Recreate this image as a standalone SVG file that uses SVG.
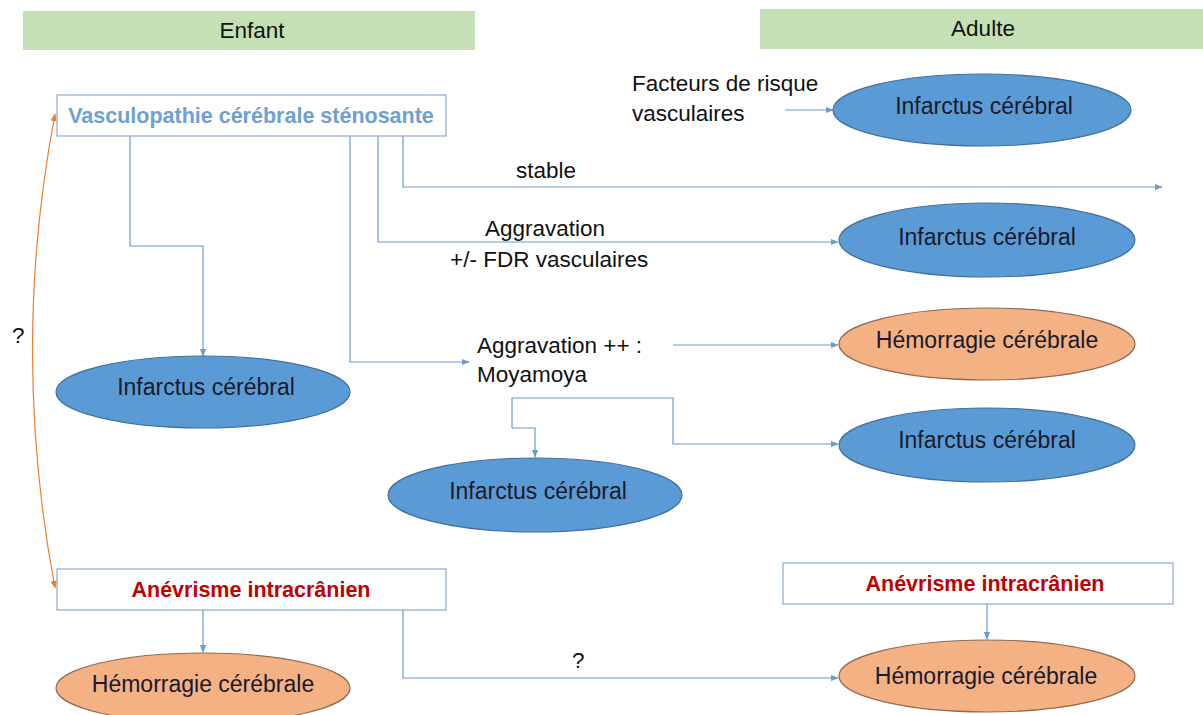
<svg xmlns="http://www.w3.org/2000/svg" width="1203" height="715" viewBox="0 0 1203 715">
<defs>
<style>
text{font-family:"Liberation Sans",Arial,sans-serif;fill:#111;font-size:22.5px}
.c{text-anchor:middle}
.e{font-size:23px;fill:#1a1a2a}
.bar{fill:#c5e0b4}
.blue{fill:#5b9bd5;stroke:#41719c;stroke-width:1.2}
.orange{fill:#f4b183;stroke:#8f6a50;stroke-width:1.2}
.box{fill:#fff;stroke:#8eaacb;stroke-width:1.2}
.conn{fill:none;stroke:#6a9ccf;stroke-width:1.2}
.ttl{font-weight:bold;font-size:21.5px}
</style>
<marker id="ah" viewBox="0 0 10 10" refX="9" refY="5" markerWidth="8" markerHeight="8" markerUnits="userSpaceOnUse" orient="auto"><path d="M0,1 L10,5 L0,9 z" fill="#6a9ccf"/></marker>
<marker id="ao" viewBox="0 0 10 10" refX="9" refY="5" markerWidth="8" markerHeight="8" markerUnits="userSpaceOnUse" orient="auto-start-reverse"><path d="M0,1 L10,5 L0,9 z" fill="#ed7d31"/></marker>
</defs>
<rect width="1203" height="715" fill="#fff"/>
<g id="hdr-enfant"><rect class="bar" x="23" y="11" width="452" height="39"/><text class="c" x="252" y="38">Enfant</text></g>
<g id="hdr-adulte"><rect class="bar" x="760" y="9" width="443" height="40"/><text class="c" x="983" y="36">Adulte</text></g>

<g id="connectors">
<path class="conn" d="M130,136 V246 H203 V356" marker-end="url(#ah)"/>
<path class="conn" d="M350,136 V362 H469" marker-end="url(#ah)"/>
<path class="conn" d="M378,136 V242 H838" marker-end="url(#ah)"/>
<path class="conn" d="M403,136 V187 H1162" marker-end="url(#ah)"/>
<path class="conn" d="M785,110 H833" marker-end="url(#ah)"/>
<path class="conn" d="M673,345 H838" marker-end="url(#ah)"/>
<path class="conn" d="M512,428 V398 H673 V444 H838" marker-end="url(#ah)"/>
<path class="conn" d="M512,428 H535 V457" marker-end="url(#ah)"/>
<path class="conn" d="M203,610 V652" marker-end="url(#ah)"/>
<path class="conn" d="M403,610 V678 H838" marker-end="url(#ah)"/>
<path class="conn" d="M987,604 V639" marker-end="url(#ah)"/>
<path d="M55,114 Q10,350 55,588" fill="none" stroke="#ed7d31" stroke-width="1.2" marker-start="url(#ao)" marker-end="url(#ao)"/>
</g>

<g id="lbl-q1"><text x="12" y="343">?</text></g>
<g id="lbl-frv"><text x="632" y="91">Facteurs de risque</text><text x="632" y="121">vasculaires</text></g>
<g id="lbl-stable"><text x="516" y="178">stable</text></g>
<g id="lbl-aggr"><text x="485" y="236">Aggravation</text><text x="450" y="267">+/- FDR vasculaires</text></g>
<g id="lbl-aggr2"><text x="477" y="353">Aggravation ++ :</text><text x="477" y="382">Moyamoya</text></g>
<g id="lbl-q2"><text x="572" y="668">?</text></g>

<g id="vasc"><rect class="box" x="57" y="95" width="389" height="41"/><text class="c ttl" x="251" y="123" style="fill:#6fa0d0">Vasculopathie cérébrale sténosante</text></g>
<g id="inf-adulte1"><ellipse class="blue" cx="982" cy="110" rx="149" ry="36"/><text class="c e" x="984" y="114">Infarctus cérébral</text></g>
<g id="inf-adulte2"><ellipse class="blue" cx="987" cy="240" rx="148" ry="37"/><text class="c e" x="987" y="245">Infarctus cérébral</text></g>
<g id="hem-adulte1"><ellipse class="orange" cx="987" cy="344" rx="148" ry="36"/><text class="c e" x="987" y="348">Hémorragie cérébrale</text></g>
<g id="inf-enfant"><ellipse class="blue" cx="203" cy="392" rx="147" ry="36"/><text class="c e" x="206" y="395">Infarctus cérébral</text></g>
<g id="inf-adulte3"><ellipse class="blue" cx="987" cy="445" rx="148" ry="37"/><text class="c e" x="987" y="448">Infarctus cérébral</text></g>
<g id="inf-moya"><ellipse class="blue" cx="535" cy="495" rx="147" ry="37"/><text class="c e" x="538" y="499">Infarctus cérébral</text></g>
<g id="anev-enfant"><rect class="box" x="57" y="569" width="389" height="41"/><text class="c ttl" x="251" y="597" style="fill:#c00000">Anévrisme intracrânien</text></g>
<g id="anev-adulte"><rect class="box" x="783" y="563" width="390" height="41"/><text class="c ttl" x="985" y="591" style="fill:#c00000">Anévrisme intracrânien</text></g>
<g id="hem-enfant"><ellipse class="orange" cx="203" cy="688" rx="147" ry="35"/><text class="c e" x="203" y="692">Hémorragie cérébrale</text></g>
<g id="hem-adulte2"><ellipse class="orange" cx="987" cy="676" rx="148" ry="36"/><text class="c e" x="986" y="684">Hémorragie cérébrale</text></g>
</svg>
